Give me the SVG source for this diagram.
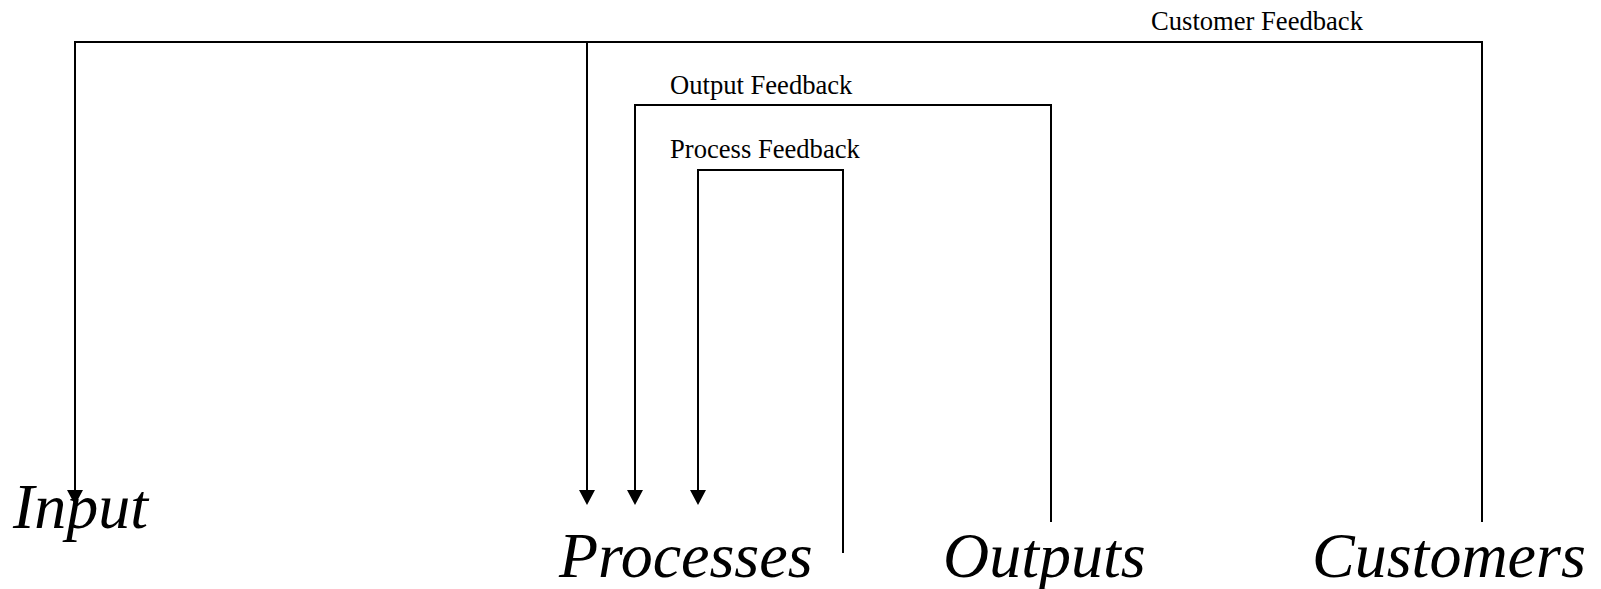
<svg xmlns="http://www.w3.org/2000/svg" width="1601" height="589" viewBox="0 0 1601 589">
<style>
.conn{fill:none;stroke:#000;stroke-width:2;stroke-linejoin:miter;stroke-linecap:square}
.lbl{font-family:"Liberation Serif","Times New Roman",serif;font-size:26.6px;fill:#000}
.node{font-family:"Liberation Serif","Times New Roman",serif;font-size:64px;font-style:italic;fill:#000}
</style>
<defs>
<marker id="arr" markerUnits="userSpaceOnUse" markerWidth="15" markerHeight="16" viewBox="0 0 15 16" refX="2" refY="8" orient="auto">
<path d="M0,0 L15,8 L0,16 z" fill="#000"/>
</marker>
</defs>
<rect width="1601" height="589" fill="#fff"/>
<g id="connectors">
<path class="conn" d="M1482,521 V42 H75 V492" marker-end="url(#arr)"/>
<path class="conn" d="M587,42 V492" marker-end="url(#arr)"/>
<path class="conn" d="M1051,521 V105 H635 V492" marker-end="url(#arr)"/>
<path class="conn" d="M843,552 V170 H698 V492" marker-end="url(#arr)"/>
<text class="lbl" x="1151" y="29.5">Customer Feedback</text>
<text class="lbl" x="670" y="94">Output Feedback</text>
<text class="lbl" x="670" y="158">Process Feedback</text>
</g>
<g id="input"><text class="node" x="13" y="528">Input</text></g>
<g id="processes"><text class="node" x="559" y="577">Processes</text></g>
<g id="outputs"><text class="node" x="943" y="577">Outputs</text></g>
<g id="customers"><text class="node" x="1312" y="577">Customers</text></g>
</svg>
